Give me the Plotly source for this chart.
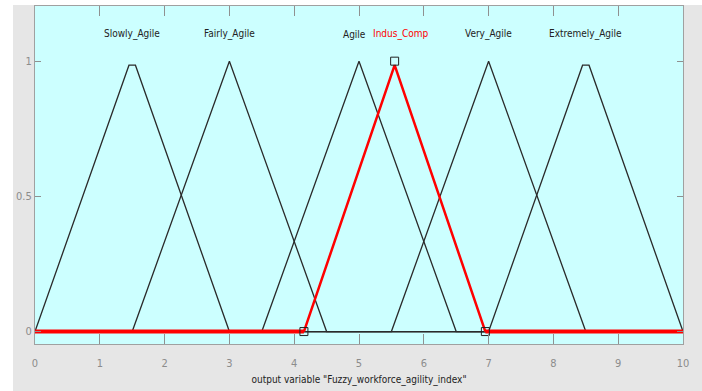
import plotly.graph_objects as go

# membership function data (output variable universe 0..10)
mf_names = ["Slowly_Agile", "Fairly_Agile", "Agile", "Very_Agile", "Extremely_Agile"]
mf_x = [
    [0, 1.45, 1.55, 3, 10],
    [0, 1.5, 3, 4.5, 10],
    [0, 3.5, 5, 6.5, 10],
    [0, 5.5, 7, 8.5, 10],
    [0, 7, 8.45, 8.55, 10],
]
mf_y = [
    [0, 0.985, 0.985, 0, 0],
    [0, 0, 1, 0, 0],
    [0, 0, 1, 0, 0],
    [0, 0, 1, 0, 0],
    [0, 0, 0.985, 0.985, 0],
]
label_x = [1.5, 3, 5, 7, 8.5]

sel_name = "Indus_Comp"
sel_x = [4.15, 5.55, 6.95]
sel_y = [0, 0.985, 0]
marker_x = [4.15, 5.55, 6.95]
marker_y = [0, 1, 0]

x_ticks = [0, 1, 2, 3, 4, 5, 6, 7, 8, 9, 10]
y_ticks = [0, 0.5, 1]
y_tick_text = ["0", "0.5", "1"]
x_title = 'output variable "Fuzzy_workforce_agility_index"'

font_fam = "DejaVu Sans Condensed, Liberation Sans Narrow, Liberation Sans, sans-serif"

fig = go.Figure()
for xs, ys in zip(mf_x, mf_y):
    fig.add_trace(go.Scatter(x=xs, y=ys, mode="lines",
                             line=dict(color="#2a2a2a", width=1.3),
                             hoverinfo="skip", showlegend=False))
# red selected MF: zero line outside support, triangle
fig.add_trace(go.Scatter(x=[0, sel_x[0]], y=[0, 0], mode="lines",
                         line=dict(color="#ff0000", width=4), showlegend=False))
fig.add_trace(go.Scatter(x=[sel_x[-1], 10], y=[0, 0], mode="lines",
                         line=dict(color="#ff0000", width=4), showlegend=False))
fig.add_trace(go.Scatter(x=sel_x, y=sel_y, mode="lines",
                         line=dict(color="#ff0000", width=2.5), showlegend=False))
fig.add_trace(go.Scatter(x=marker_x, y=marker_y, mode="markers",
                         marker=dict(symbol="square-open", size=8, color="#222222",
                                     line=dict(width=1)),
                         showlegend=False))

for name, lx in zip(mf_names, label_x):
    if name == "Agile":
        fig.add_annotation(x=5.14, y=1.1, text=name, showarrow=False, xanchor="right",
                           font=dict(family=font_fam, size=10, color="#222222"))
    else:
        fig.add_annotation(x=lx, y=1.1, text=name, showarrow=False,
                           font=dict(family=font_fam, size=10, color="#222222"))
fig.add_annotation(x=5.185, y=1.1, text=sel_name, showarrow=False, xanchor="left",
                   font=dict(family=font_fam, size=10, color="#ff0000"))

# white strips at the left/top of the picture
fig.add_shape(type="rect", xref="paper", yref="paper", x0=-0.06, x1=-22/648,
              y0=-0.2, y1=1.1, fillcolor="white", line=dict(width=0), layer="below")
fig.add_shape(type="rect", xref="paper", yref="paper", x0=-0.06, x1=1.05,
              y0=1 + 1/338, y1=1.05, fillcolor="white", line=dict(width=0), layer="below")

fig.update_layout(
    width=702, height=391,
    margin=dict(l=35, r=19, t=6, b=47, autoexpand=False),
    paper_bgcolor="#e6e6e6",
    plot_bgcolor="#ccffff",
    font=dict(family=font_fam, size=11, color="#8c8c8c"),
    xaxis=dict(range=[0, 10], tickvals=x_ticks, ticks="inside", ticklen=10,
               tickcolor="#909090", showgrid=False, zeroline=False, automargin=False,
               showline=True, linecolor="#a0a0a0", linewidth=1, mirror="ticks",
               ticklabelstandoff=9,
               tickfont=dict(family=font_fam, size=11, color="#8c8c8c"),
               title=dict(text=x_title, standoff=6,
                          font=dict(family=font_fam, size=10, color="#222222"))),
    yaxis=dict(range=[-0.046, 1.204], tickvals=y_ticks, ticktext=y_tick_text,
               ticks="inside", ticklen=6, tickcolor="#909090", showgrid=False,
               zeroline=False, showline=True, linecolor="#a0a0a0", linewidth=1,
               mirror="ticks", automargin=False,
               tickfont=dict(family=font_fam, size=11, color="#8c8c8c")),
)
fig.write_html("out.html", config={"displayModeBar": False},
               post_script="document.body.style.margin='0';")
